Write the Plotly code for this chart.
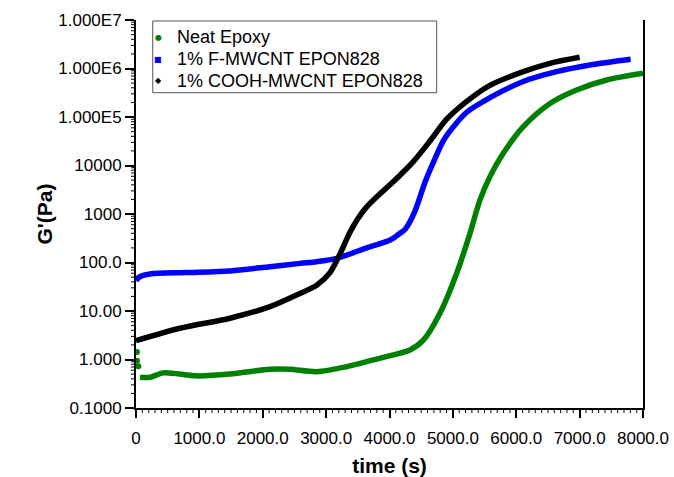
import math
import plotly.graph_objects as go

# ---- data ----
neat_t = [63, 221, 431, 957, 1483, 2114, 2430, 2851, 3324, 3745, 4165, 4323, 4534,
          4796, 5060, 5270, 5428, 5585, 5795, 6111, 6532, 6953, 7426, 8000]
neat_g = [0.43, 0.43, 0.53, 0.46, 0.50, 0.63, 0.63, 0.56, 0.71, 0.98, 1.35, 1.57, 2.5,
          9, 60, 400, 1950, 5900, 17800, 63000, 190000, 360000, 580000, 800000]
neat_start_t = [15, 15, 37]
neat_start_g = [1.43, 0.94, 0.73]

f_t = [0, 50, 221, 773, 1483, 2114, 2588, 2851, 3166, 3640, 4008, 4165, 4244, 4402, 4560,
       4720, 4870, 5218, 5585, 6111, 6637, 7163, 7805]
f_g = [42, 50, 58, 62, 67, 82, 96, 104, 122, 200, 290, 400, 480, 1150, 4500,
       14000, 36000, 125000, 250000, 540000, 860000, 1180000, 1550000]

c_t = [0, 694, 1483, 2114, 2588, 2851, 3061, 3219, 3376, 3500, 3640, 3850, 4008, 4165,
       4376, 4639, 4902, 5218, 5585, 6111, 6532, 7000]
c_g = [2.44, 4.4, 7.1, 12.3, 23, 34, 62, 150, 420, 800, 1400, 2600, 4000, 6300,
       12000, 32000, 90000, 210000, 450000, 860000, 1280000, 1700000]

names = ["Neat Epoxy", "1% F-MWCNT EPON828", "1% COOH-MWCNT EPON828"]
colors = ["#008000", "#0000ff", "#000000"]
glyphs = ["●", "■", "◆"]

X_RANGE = [0, 8000]
Y_RANGE_LOG = [-1, 7]
y_tickvals = [0.1, 1, 10, 100, 1000, 10000, 1e5, 1e6, 1e7]
y_ticktext = ["0.1000", "1.000", "10.00", "100.0", "1000", "10000",
              "1.000E5", "1.000E6", "1.000E7"]
x_tickvals = [0, 1000, 2000, 3000, 4000, 5000, 6000, 7000, 8000]
x_ticktext = ["0", "1000.0", "2000.0", "3000.0", "4000.0", "5000.0",
              "6000.0", "7000.0", "8000.0"]

# minor tick positions (axis decoration)
x_minor = [k * 100 for k in range(81) if k % 10 != 0]
y_minor = [d * 10.0 ** e for e in range(-1, 7) for d in range(2, 10)]

FONT = "Arial, Liberation Sans, sans-serif"
W, H = 674, 477
ML, MR, MT, MB = 136, 31, 20, 69
PW, PH = W - ML - MR, H - MT - MB

fig = go.Figure()
series = [(neat_t, neat_g), (f_t, f_g), (c_t, c_g)]
for (t, g), col, n in zip(series, colors, names):
    fig.add_trace(go.Scatter(x=t, y=g, mode="lines", name=n, showlegend=False,
                             line=dict(color=col, width=5.5, shape="spline", smoothing=0.8)))
fig.add_trace(go.Scatter(x=neat_start_t, y=neat_start_g, mode="markers", showlegend=False,
                         cliponaxis=False, marker=dict(color=colors[0], size=6)))

fig.update_layout(
    width=W, height=H,
    margin=dict(l=ML, r=MR, t=MT, b=MB, autoexpand=False),
    plot_bgcolor="white", paper_bgcolor="white",
    font=dict(family=FONT, color="black", size=17),
    showlegend=False,
    xaxis=dict(
        range=X_RANGE, showgrid=False, zeroline=False, automargin=False,
        showline=True, linecolor="black", linewidth=2,
        tickmode="array", tickvals=x_tickvals, ticktext=x_ticktext,
        ticks="outside", ticklen=8, tickwidth=1.5, tickcolor="black",
        ticklabelstandoff=6,
        tickfont=dict(size=17, family=FONT),
        title=dict(text="<b>time (s)</b>", font=dict(size=21, family=FONT), standoff=14),
    ),
    yaxis=dict(
        type="log", range=Y_RANGE_LOG, showgrid=False, zeroline=False, automargin=False,
        showline=True, linecolor="black", linewidth=2, mirror=True,
        tickmode="array", tickvals=y_tickvals, ticktext=y_ticktext,
        ticks="outside", ticklen=9, tickwidth=1.5, tickcolor="black",
        tickfont=dict(size=17, family=FONT),
        title=dict(text="<b>G'(Pa)</b>", font=dict(size=21, family=FONT), standoff=0),
    ),
)

# minor tick marks drawn as one path per axis, positioned via the axis ranges
tick_len = 5
dy = tick_len / PH
dx = tick_len / PW
xp = [(v - X_RANGE[0]) / (X_RANGE[1] - X_RANGE[0]) for v in x_minor]
yp = [(math.log10(v) - Y_RANGE_LOG[0]) / (Y_RANGE_LOG[1] - Y_RANGE_LOG[0]) for v in y_minor]
x_path = " ".join(f"M{p:.5f},0 L{p:.5f},{-dy:.5f}" for p in xp)
y_path = " ".join(f"M0,{p:.5f} L{-dx:.5f},{p:.5f}" for p in yp)
for pth in (x_path, y_path):
    fig.add_shape(type="path", xref="paper", yref="paper", path=pth,
                  line=dict(color="black", width=1), layer="above")

# legend box (framed panel with text entries)
fig.add_shape(type="rect", xref="paper", yref="paper",
              x0=0.033, x1=0.593, y0=0.8126, y1=0.9974,
              line=dict(color="#555555", width=1), fillcolor="white", layer="above")
leg_y = [0.9554, 0.8987, 0.8436]
for n, col, gl, yy in zip(names, colors, glyphs, leg_y):
    fig.add_annotation(xref="paper", yref="paper", x=0.0438, y=yy,
                       xanchor="center", yanchor="middle", showarrow=False,
                       text=gl, font=dict(size=8, color=col, family="DejaVu Sans"))
    fig.add_annotation(xref="paper", yref="paper", x=0.0769, y=yy,
                       xanchor="left", yanchor="middle", showarrow=False,
                       text=n, font=dict(size=18, color="black", family=FONT))

fig.write_html("out.html")
